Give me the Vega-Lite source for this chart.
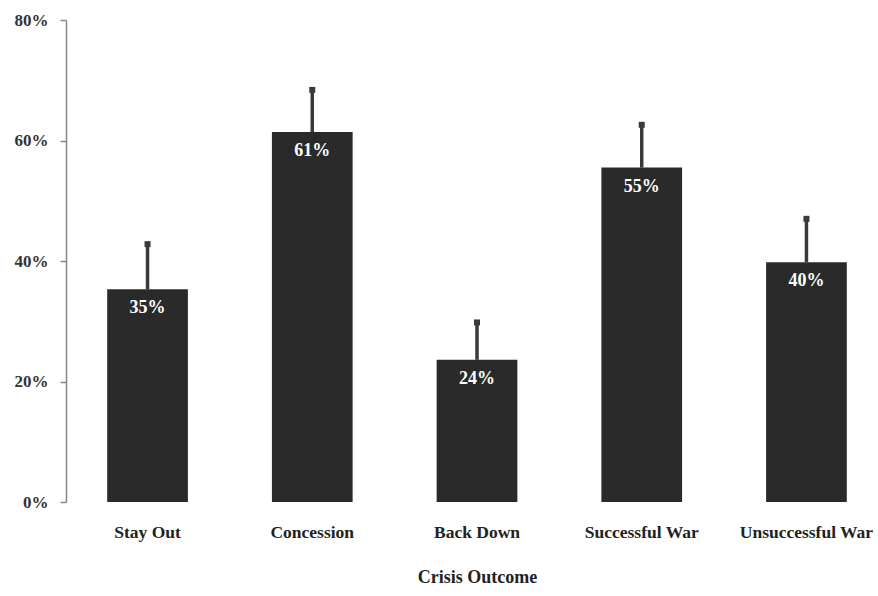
{
  "$schema": "https://vega.github.io/schema/vega-lite/v6.json",
  "autosize": "none",
  "width": 812,
  "height": 482,
  "padding": {"left": 66, "top": 20, "right": 0, "bottom": 94},
  "background": "white",
  "config": {"view": {"stroke": null}},
  "data": {"values": [
    {"outcome": "Stay Out", "pct": 0.353, "upper": 0.428, "label": "35%"},
    {"outcome": "Concession", "pct": 0.614, "upper": 0.684, "label": "61%"},
    {"outcome": "Back Down", "pct": 0.236, "upper": 0.298, "label": "24%"},
    {"outcome": "Successful War", "pct": 0.555, "upper": 0.626, "label": "55%"},
    {"outcome": "Unsuccessful War", "pct": 0.398, "upper": 0.470, "label": "40%"}
  ]},
  "encoding": {
    "x": {
      "field": "outcome", "type": "nominal", "sort": null,
      "scale": {"range": [0, 822], "paddingInner": 0.51, "paddingOuter": 0.25},
      "axis": {
        "title": "Crisis Outcome", "labelAngle": 0, "domain": false, "ticks": false,
        "labelPadding": 21, "labelFont": "Liberation Serif", "labelFontWeight": "bold",
        "labelFontSize": 17.5, "labelColor": "#222",
        "titleFont": "Liberation Serif", "titleFontWeight": "bold", "titleFontSize": 18,
        "titleColor": "#222", "titlePadding": 28
      }
    }
  },
  "layer": [
    {
      "mark": {"type": "rule", "color": "#3a3a3a", "strokeWidth": 3.5},
      "encoding": {
        "y": {"field": "pct", "type": "quantitative"},
        "y2": {"field": "upper"}
      }
    },
    {
      "mark": {"type": "point", "shape": "square", "filled": true, "color": "#3a3a3a", "size": 36, "opacity": 1},
      "encoding": {
        "y": {"field": "upper", "type": "quantitative"}
      }
    },
    {
      "mark": {"type": "bar", "color": "#2a2a2a"},
      "encoding": {
        "y": {
          "field": "pct", "type": "quantitative",
          "scale": {"domain": [0, 0.8], "nice": false},
          "axis": {
            "title": null, "values": [0, 0.2, 0.4, 0.6, 0.8], "format": ".0%",
            "grid": false, "domainColor": "#888", "domainWidth": 1.5, "tickColor": "#888",
            "tickWidth": 1.5, "tickSize": 6, "labelPadding": 12,
            "labelFont": "Liberation Serif", "labelFontWeight": "bold", "labelFontSize": 17,
            "labelColor": "#333"
          }
        }
      }
    },
    {
      "mark": {"type": "text", "color": "white", "font": "Liberation Serif", "fontWeight": "bold",
               "fontSize": 18, "baseline": "middle", "dy": 19},
      "encoding": {
        "y": {"field": "pct", "type": "quantitative"},
        "text": {"field": "label"}
      }
    }
  ]
}
